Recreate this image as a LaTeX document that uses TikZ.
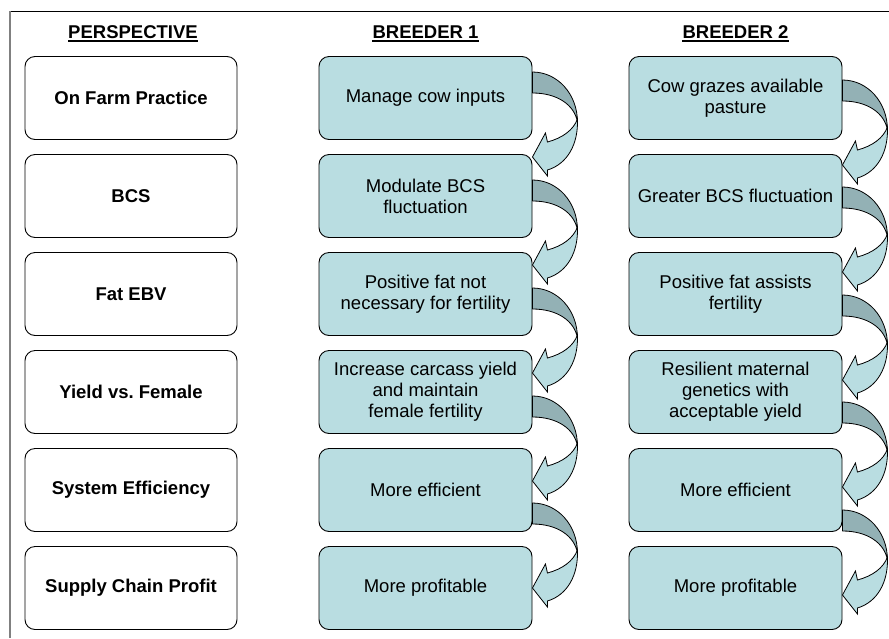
\documentclass[tikz,border=0pt]{standalone}
\usepackage{fontspec}
\setmainfont{Liberation Sans}
\usetikzlibrary{calc}
\frenchspacing
\definecolor{boxfill}{RGB}{185,221,225}
\definecolor{backfill}{RGB}{147,177,181}
\definecolor{framegray}{RGB}{128,128,128}
\tikzset{
 persp/.style={draw=black, line width=0.9pt, rounded corners=10pt, fill=white, minimum width=212pt, minimum height=83pt, inner sep=0pt, align=center, font=\fontsize{18.5}{21}\selectfont\bfseries},
 breed/.style={persp, fill=boxfill, minimum width=213pt, font=\fontsize{18.5}{21}\selectfont},
 header/.style={font=\fontsize{18.5}{21}\selectfont\bfseries, inner sep=0pt, anchor=base},
 uline/.style={line width=2.2pt},
 arrback/.style={draw=black, line width=0.8pt, fill=backfill, line join=round},
 arrfront/.style={draw=black, line width=0.8pt, fill=boxfill, line join=miter},
}
\newcommand\curvarr[2]{%
 \coordinate (tmpy) at (0,#2);
 \begin{scope}[shift={(#1.east |- tmpy)}]
  \path[arrback] (0,0) .. controls (25,0) and (45,22) .. (45,50) .. controls (42,33) and (25,21) .. (0,21) -- cycle;
  \path[arrfront] (45,47) .. controls (46,72) and (35,92) .. (15,98) -- (15,104) -- (0,85) -- (13,61) -- (15,70) .. controls (30,66) and (41,58) .. (45,47) -- cycle;
 \end{scope}}
\begin{document}
\begin{tikzpicture}[x=1pt,y=-1pt]
\useasboundingbox (0,0) rectangle (889,638);
\draw[black, line width=1pt] (10,11) -- (889,11);
\draw[framegray, line width=1.5pt] (10,11) -- (10,638);
% headers
\node[header] (h1) at (133,38) {PERSPECTIVE};
\node[header] (h2) at (425.5,38) {BREEDER 1};
\node[header] (h3) at (735.5,38) {BREEDER 2};
\foreach \h in {h1,h2,h3}
  \draw[uline] ([yshift=-3pt]\h.base west) -- ([yshift=-3pt]\h.base east);
% perspective column
\node[persp] (p1) at (131,98) {On Farm Practice};
\node[persp] (p2) at (131,196) {BCS};
\node[persp] (p3) at (131,294) {Fat EBV};
\node[persp] (p4) at (131,392) {Yield vs. Female};
\node[persp] (p5) at (131,490) {System Efficiency};
\node[persp] (p6) at (131,588) {Supply Chain Profit};
% breeder 1
\node[breed] (a1) at (425.5,98) {Manage cow inputs};
\node[breed] (a2) at (425.5,196) {Modulate BCS\\fluctuation};
\node[breed] (a3) at (425.5,294) {Positive fat not\\necessary for fertility};
\node[breed] (a4) at (425.5,392) {Increase carcass yield\\and maintain\\female fertility};
\node[breed] (a5) at (425.5,490) {More efficient};
\node[breed] (a6) at (425.5,588) {More profitable};
% breeder 2
\node[breed] (b1) at (735.5,98) {Cow grazes available\\pasture};
\node[breed] (b2) at (735.5,196) {Greater BCS fluctuation};
\node[breed] (b3) at (735.5,294) {Positive fat assists\\fertility};
\node[breed] (b4) at (735.5,392) {Resilient maternal\\genetics with\\acceptable yield};
\node[breed] (b5) at (735.5,490) {More efficient};
\node[breed] (b6) at (735.5,588) {More profitable};
% curved arrows
\curvarr{a1}{72}
\curvarr{a2}{180}
\curvarr{a3}{288}
\curvarr{a4}{396}
\curvarr{a5}{503}
\curvarr{b1}{80}
\curvarr{b2}{187}
\curvarr{b3}{295}
\curvarr{b4}{402}
\curvarr{b5}{510}
\end{tikzpicture}
\end{document}
